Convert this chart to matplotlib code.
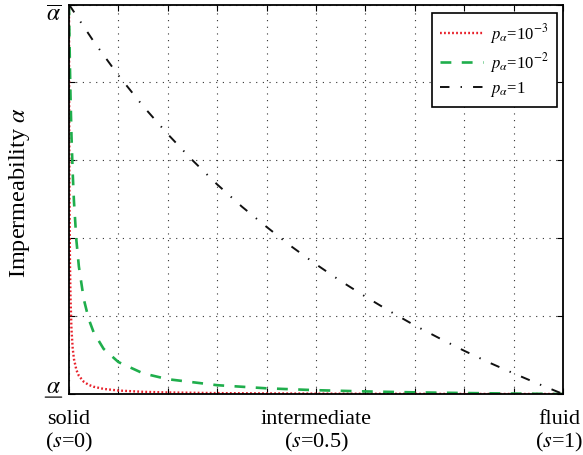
import matplotlib
matplotlib.use('Agg')
import matplotlib.pyplot as plt
from matplotlib.transforms import ScaledTranslation

plt.rcParams['font.family'] = ['Liberation Serif', 'DejaVu Serif']
plt.rcParams['mathtext.fontset'] = 'stix'
plt.rcParams['lines.scale_dashes'] = False

# Data
s_knee = [0, 0.0002, 0.0005, 0.001, 0.002, 0.003, 0.005, 0.0075, 0.01, 0.015, 0.02,
          0.03, 0.04, 0.05, 0.07, 0.1, 0.15, 0.2, 0.3, 0.4, 0.5, 0.6, 0.7, 0.8, 0.9, 1.0]
alpha_p1e3 = [1.0, 0.833, 0.666, 0.4995, 0.333, 0.249, 0.166, 0.117, 0.090, 0.0616, 0.0467,
              0.0313, 0.0234, 0.0186, 0.0131, 0.0089, 0.0056, 0.0040, 0.0023, 0.0015, 0.0010,
              0.00066, 0.00043, 0.00025, 0.00011, 0.0]
alpha_p1e2 = [1.0, 0.980, 0.952, 0.908, 0.832, 0.767, 0.663, 0.567, 0.495, 0.394, 0.327,
              0.243, 0.192, 0.158, 0.116, 0.082, 0.053, 0.038, 0.0226, 0.0146, 0.0098,
              0.0066, 0.0042, 0.0025, 0.0011, 0.0]
s_lin = [0, 0.05, 0.1, 0.15, 0.2, 0.25, 0.3, 0.35, 0.4, 0.45, 0.5, 0.55, 0.6, 0.65, 0.7,
         0.75, 0.8, 0.85, 0.9, 0.95, 1.0]
alpha_p1 = [1.0, 0.905, 0.818, 0.739, 0.667, 0.6, 0.538, 0.481, 0.429, 0.379, 0.333, 0.290,
            0.25, 0.212, 0.176, 0.143, 0.111, 0.081, 0.053, 0.026, 0.0]

series_labels = [r'$p_\alpha$=10$^{-3}$', r'$p_\alpha$=10$^{-2}$', r'$p_\alpha$=1']
xtick_vals = [0, 0.1, 0.2, 0.3, 0.4, 0.5, 0.6, 0.7, 0.8, 0.9, 1.0]
xtick_labels = ['solid\n($s$=0)', '', '', '', '', 'intermediate\n($s$=0.5)', '', '', '', '', 'fluid\n($s$=1)']
ytick_vals = [0, 0.2, 0.4, 0.6, 0.8, 1.0]
ytick_labels = [r'$\alpha$', '', '', '', '', r'$\overline{\alpha}$']

fig = plt.figure(figsize=(5.83, 4.56), dpi=100)
ax = fig.add_axes([69/583, 61/456, 494/583, 389.5/456])

ax.plot(s_knee, alpha_p1e3, color='#e8212b', lw=1.7, dashes=(1.3, 1.6), label=series_labels[0])
ax.plot(s_knee, alpha_p1e2, color='#1fae4c', lw=1.9, dashes=(7.8, 7.5), label=series_labels[1])
ax.plot(s_lin, alpha_p1, color='#111111', lw=1.4, dashes=(6.8, 8.0, 1.0, 8.0), label=series_labels[2])

ax.set_xlim(0, 1)
ax.set_ylim(0, 1)
ax.set_xticks(xtick_vals)
ax.set_xticklabels(xtick_labels, fontsize=16, linespacing=1.1)
ax.set_yticks(ytick_vals)
ax.set_yticklabels(ytick_labels, fontsize=17)
ax.tick_params(direction='in', length=4, width=0.8, top=True, right=True)
ax.tick_params(axis='x', pad=11)
ax.tick_params(axis='y', pad=6)

ylabs = ax.get_yticklabels()
ylabs[0].set_va('bottom')
ylabs[0].set_transform(ylabs[0].get_transform() + ScaledTranslation(0, -3/100, fig.dpi_scale_trans))
ylabs[-1].set_va('top')
xlabs = ax.get_xticklabels()
xlabs[-1].set_transform(xlabs[-1].get_transform() + ScaledTranslation(-4/100, 0, fig.dpi_scale_trans))

ax.grid(True, color='#333333', lw=0.8, dashes=(0.8, 4.0))
for sp in ax.spines.values():
    sp.set_linewidth(1.3)

# underline for bottom y tick label
ax.annotate('', xy=(-0.048, -0.008), xytext=(-0.015, -0.008), xycoords='axes fraction',
            arrowprops=dict(arrowstyle='-', lw=1.0, color='#222222',
                            shrinkA=0, shrinkB=0), annotation_clip=False)

ax.set_ylabel(r'Impermeability $\alpha$', fontsize=17.5)
ax.yaxis.set_label_coords(-0.074, 0.52)

leg = ax.legend(loc='upper right', fontsize=12, frameon=True, fancybox=False,
                edgecolor='black', framealpha=1, handlelength=2.6, handletextpad=0.4,
                labelspacing=0.3, borderpad=0.5, borderaxespad=0,
                bbox_to_anchor=(0.988, 0.978))
leg.get_frame().set_linewidth(1.2)

fig.savefig('out.png', dpi=100)
